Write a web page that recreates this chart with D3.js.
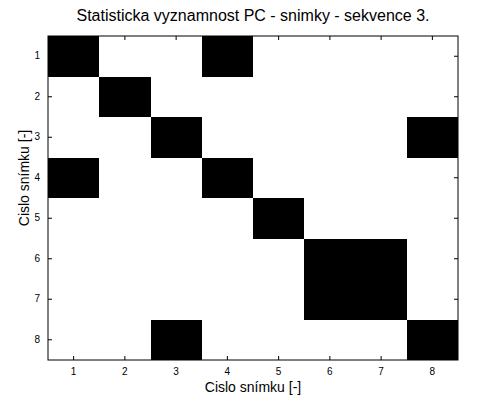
<!DOCTYPE html>
<html>
<head>
<meta charset="utf-8">
<script src="https://d3js.org/d3.v7.min.js"></script>
<style>
body { margin: 0; background: #fff; font-family: 'Liberation Sans', Arial, sans-serif; }
svg { display: block; }
</style>
</head>
<body>
<div id="plot"></div>
<script>
var width = 479, height = 398;
var margin = {top: 36, right: 21, bottom: 38, left: 48};

// snimky (rows) and snimky (cols), 1 = significant
var rowLabels = [1, 2, 3, 4, 5, 6, 7, 8];
var colLabels = [1, 2, 3, 4, 5, 6, 7, 8];
var significance = [
  [1, 0, 0, 1, 0, 0, 0, 0],
  [0, 1, 0, 0, 0, 0, 0, 0],
  [0, 0, 1, 0, 0, 0, 0, 1],
  [1, 0, 0, 1, 0, 0, 0, 0],
  [0, 0, 0, 0, 1, 0, 0, 0],
  [0, 0, 0, 0, 0, 1, 1, 0],
  [0, 0, 0, 0, 0, 1, 1, 0],
  [0, 0, 1, 0, 0, 0, 0, 1]
];

var w = width - margin.left - margin.right;
var h = height - margin.top - margin.bottom;

var svg = d3.select("#plot").append("svg")
  .attr("width", width).attr("height", height);
var g = svg.append("g").attr("transform", "translate(" + margin.left + "," + margin.top + ")");

var xScale = d3.scaleBand().domain(colLabels).range([0, w]);
var yScale = d3.scaleBand().domain(rowLabels).range([0, h]);

var cells = [];
significance.forEach(function (row, i) {
  row.forEach(function (v, j) {
    cells.push({r: rowLabels[i], c: colLabels[j], v: v});
  });
});

g.selectAll("rect.cell").data(cells).enter().append("rect")
  .attr("class", "cell")
  .attr("x", function (d) { return xScale(d.c); })
  .attr("y", function (d) { return yScale(d.r); })
  .attr("width", xScale.bandwidth())
  .attr("height", yScale.bandwidth())
  .attr("shape-rendering", "crispEdges")
  .attr("fill", function (d) { return d.v ? "#000" : "#fff"; });

// frame
g.append("rect").attr("x", 0).attr("y", 0).attr("width", w).attr("height", h)
  .attr("fill", "none").attr("stroke", "#000").attr("stroke-width", 1);

var tickLen = 4;
function styleAxis(sel) {
  sel.select(".domain").remove();
  sel.selectAll("line").attr("stroke", "#000");
  sel.selectAll("text").attr("font-size", 10).attr("fill", "#000")
    .attr("font-family", "'Liberation Sans', Arial, sans-serif");
}

g.append("g").attr("transform", "translate(0," + h + ")")
  .call(d3.axisBottom(xScale).tickSizeInner(-tickLen).tickSizeOuter(0).tickPadding(8))
  .call(styleAxis);
g.append("g")
  .call(d3.axisTop(xScale).tickSizeInner(-tickLen).tickSizeOuter(0).tickFormat(""))
  .call(styleAxis);
g.append("g")
  .call(d3.axisLeft(yScale).tickSizeInner(-tickLen).tickSizeOuter(0).tickPadding(8))
  .call(styleAxis);
g.append("g").attr("transform", "translate(" + w + ",0)")
  .call(d3.axisRight(yScale).tickSizeInner(-tickLen).tickSizeOuter(0).tickFormat(""))
  .call(styleAxis);

svg.append("text").attr("x", margin.left + w / 2).attr("y", 21)
  .attr("text-anchor", "middle").attr("font-size", 16)
  .text("Statisticka vyznamnost PC - snimky - sekvence 3.");

svg.append("text").attr("x", margin.left + w / 2).attr("y", 392)
  .attr("text-anchor", "middle").attr("font-size", 14)
  .text("Cislo snímku [-]");

svg.append("text")
  .attr("transform", "translate(29,178) rotate(-90)")
  .attr("text-anchor", "middle").attr("font-size", 14)
  .text("Cislo snímku [-]");
</script>
</body>
</html>
